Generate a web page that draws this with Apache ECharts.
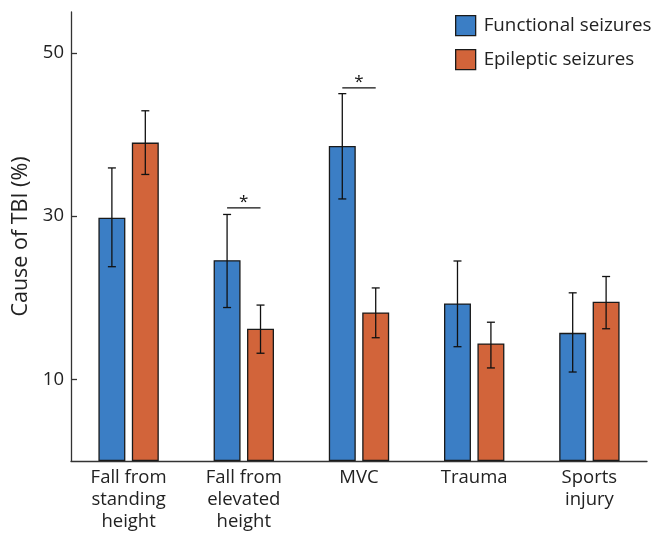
<!DOCTYPE html>
<html><head><meta charset="utf-8">
<script src="https://cdn.jsdelivr.net/npm/echarts@6/dist/echarts.min.js"></script>
<style>html,body{margin:0;padding:0;background:#fff}#c{width:665px;height:533px}</style>
</head><body><div id="c"></div>
<script>
var categories = ['Fall from\nstanding\nheight', 'Fall from\nelevated\nheight', 'MVC', 'Trauma', 'Sports\ninjury'];
var functionalValues = [29.8, 24.6, 38.6, 19.3, 15.7];
var functionalLow = [23.8, 18.8, 32.1, 14.0, 10.9];
var functionalHigh = [35.9, 30.2, 45.0, 24.5, 20.6];
var epilepticValues = [39.0, 16.2, 18.2, 14.4, 19.5];
var epilepticLow = [35.1, 13.2, 15.1, 11.4, 16.2];
var epilepticHigh = [42.9, 19.1, 21.2, 17.0, 22.6];
var significance = [[1, 31.0], [2, 45.7]];
var yTicks = [10, 30, 50];

var FONT = '"Open Sans", "Noto Sans", sans-serif';
var TXT = '#222';
var BW = 0.234, GAP = 0.24;
function offsetFor(band, sign) { return sign * (BW * band * (1 + GAP)) / 2; }

function errData(low, high) { return low.map(function (l, i) { return [i, l, high[i]]; }); }
function errSeries(low, high, sign) {
  return {
    type: 'custom', z: 5, silent: true,
    data: errData(low, high),
    renderItem: function (params, api) {
      var i = api.value(0);
      var p1 = api.coord([i, api.value(1)]);
      var p2 = api.coord([i, api.value(2)]);
      var band = api.size([1, 0])[0];
      var x = p1[0] + offsetFor(band, sign);
      var cap = 4;
      var st = { stroke: '#111', lineWidth: 1.3 };
      return { type: 'group', children: [
        { type: 'line', shape: { x1: x, y1: p1[1], x2: x, y2: p2[1] }, style: st },
        { type: 'line', shape: { x1: x - cap, y1: p1[1], x2: x + cap, y2: p1[1] }, style: st },
        { type: 'line', shape: { x1: x - cap, y1: p2[1], x2: x + cap, y2: p2[1] }, style: st }
      ]};
    }
  };
}

var chart = echarts.init(document.getElementById('c'));
chart.setOption({
  animation: false,
  grid: { left: 71, right: 18, top: 12, bottom: 68.5, containLabel: false },
  legend: {
    orient: 'vertical', left: 455, top: 15, itemWidth: 20, itemHeight: 20, itemGap: 12.7,
    icon: 'rect', padding: 0,
    textStyle: { fontFamily: FONT, fontSize: 18.8, color: TXT, padding: [0, 0, 0, 3] },
    itemStyle: { borderColor: '#1a1a1a', borderWidth: 1.3 },
    data: ['Functional seizures', 'Epileptic seizures']
  },
  xAxis: {
    type: 'category', data: categories,
    axisLine: { lineStyle: { color: '#333', width: 1.3 } },
    axisTick: { show: false },
    axisLabel: { fontFamily: FONT, fontSize: 18.5, color: TXT, lineHeight: 22, margin: 6, interval: 0 }
  },
  yAxis: {
    type: 'value', min: 0, max: 55,
    name: 'Cause of TBI (%)', nameLocation: 'middle', nameGap: 32,
    nameTextStyle: { fontFamily: FONT, fontSize: 21.5, color: TXT },
    splitLine: { show: false },
    axisLine: { show: true, lineStyle: { color: '#333', width: 1.3 } },
    axisTick: { show: true, inside: true, length: 6, customValues: yTicks, lineStyle: { color: '#333', width: 1.3 } },
    axisLabel: { customValues: yTicks, fontFamily: FONT, fontSize: 18.5, color: TXT, margin: 7 }
  },
  series: [
    { name: 'Functional seizures', type: 'bar', data: functionalValues, barWidth: (BW * 100) + '%', barGap: (GAP * 100) + '%',
      itemStyle: { color: '#3b7ec5', borderColor: '#1a1a1a', borderWidth: 1.3 } },
    { name: 'Epileptic seizures', type: 'bar', data: epilepticValues, barWidth: (BW * 100) + '%', barGap: (GAP * 100) + '%',
      itemStyle: { color: '#d2643a', borderColor: '#1a1a1a', borderWidth: 1.3 } },
    errSeries(functionalLow, functionalHigh, -1),
    errSeries(epilepticLow, epilepticHigh, 1),
    {
      type: 'custom', z: 5, silent: true, data: significance,
      renderItem: function (params, api) {
        var p = api.coord([api.value(0), api.value(1)]);
        var band = api.size([1, 0])[0];
        var x1 = p[0] + offsetFor(band, -1), x2 = p[0] + offsetFor(band, 1);
        return { type: 'group', children: [
          { type: 'line', shape: { x1: x1, y1: p[1], x2: x2, y2: p[1] }, style: { stroke: '#111', lineWidth: 1.3 } },
          { type: 'text', style: { x: (x1 + x2) / 2, y: p[1] - 6, text: '*', fill: '#111', fontFamily: FONT, fontSize: 17, align: 'center', verticalAlign: 'middle' } }
        ]};
      }
    }
  ]
});
</script></body></html>
